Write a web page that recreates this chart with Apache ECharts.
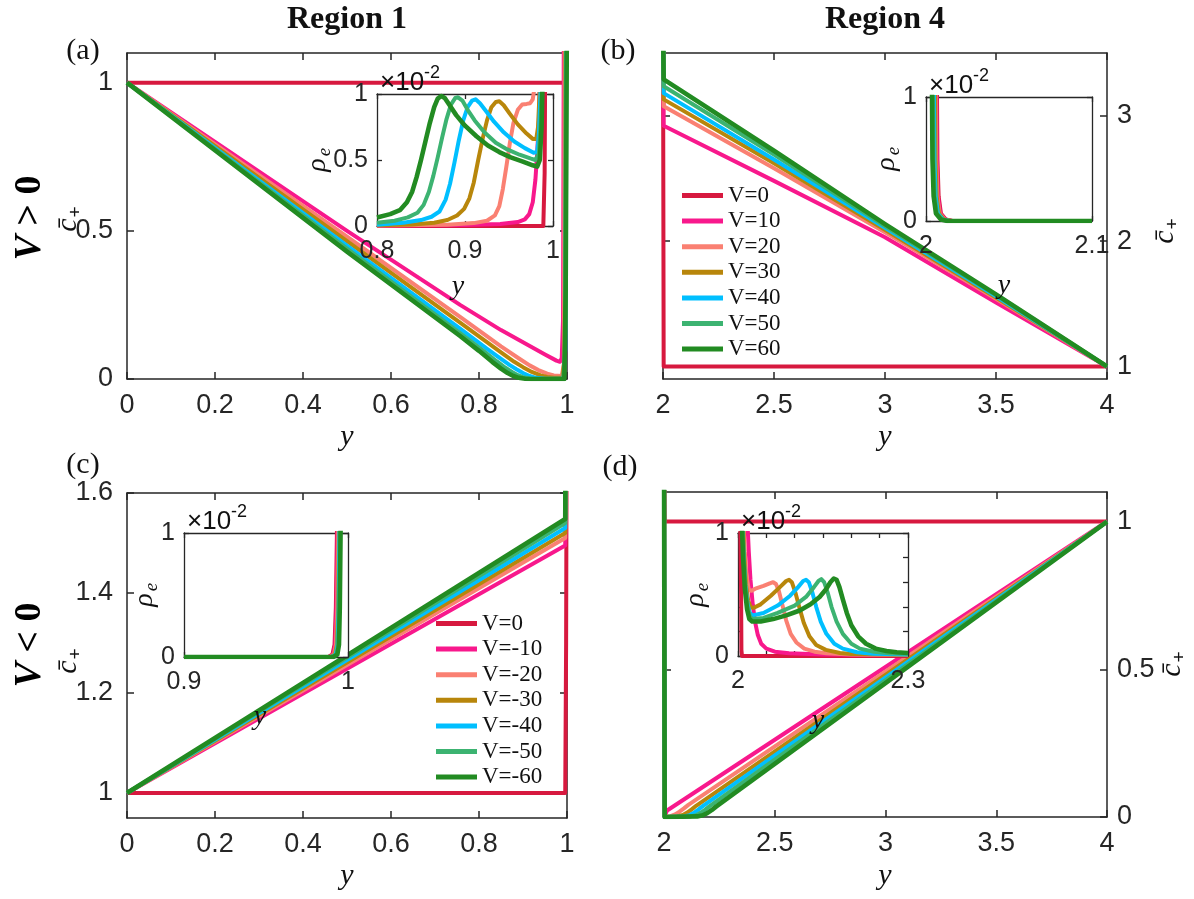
<!DOCTYPE html>
<html>
<head>
<meta charset="utf-8">
<script src="https://cdn.jsdelivr.net/npm/echarts@6/dist/echarts.min.js"></script>
</head>
<body style="margin:0;background:#fff">
<div id="container" style="width:1194px;height:899px"></div>
<script type="text/javascript">
// legend names and colours
var namesPos = ['V=0', 'V=10', 'V=20', 'V=30', 'V=40', 'V=50', 'V=60'];
var namesNeg = ['V=0', 'V=-10', 'V=-20', 'V=-30', 'V=-40', 'V=-50', 'V=-60'];
var lineColors = ['#d7193f', '#f8188c', '#fa8072', '#b8860b', '#00bfff', '#3cb371', '#228b22'];
var lineWidths = [4, 4, 4, 4, 4, 4, 4.6];

// tick values
var ticksX1 = [0, 0.2, 0.4, 0.6, 0.8, 1];
var ticksX4 = [2, 2.5, 3, 3.5, 4];
var ticksYa = [0, 0.5, 1];
var ticksYb = [1, 2, 3];
var ticksYc = [1, 1.2, 1.4, 1.6];
var ticksYd = [0, 0.5, 1];
var ticksInA = [0.8, 0.9, 1];
var ticksInB = [2, 2.1];
var ticksInC = [0.9, 1];
var ticksInD = [2, 2.05, 2.1, 2.15, 2.2, 2.25, 2.3];
var labelsInD = [2, 2.3];
var ticksInYD = [0, 0.2, 0.4, 0.6, 0.8, 1];
var ticksIn01 = [0, 1];

// (a) region 1, V>0 : c+ vs y
var cA = [
    [[0, 1], [0.995, 1], [0.997, 1.3]],
    [[0, 1], [0.2, 0.8], [0.5, 0.5], [0.757, 0.25], [0.85, 0.165], [0.95, 0.083], [0.976, 0.062], [0.984, 0.058], [0.988, 0.07], [0.991, 0.2], [0.993, 1.3]],
    [[0, 1], [0.5, 0.48], [0.757, 0.21], [0.85, 0.11], [0.89, 0.07], [0.915, 0.046], [0.935, 0.03], [0.955, 0.018], [0.97, 0.012], [0.988, 0.01], [0.993, 0.05], [0.995, 1.3]],
    [[0, 1], [0.5, 0.465], [0.757, 0.19], [0.85, 0.09], [0.88, 0.058], [0.9, 0.04], [0.92, 0.024], [0.94, 0.012], [0.955, 0.007], [0.97, 0.004], [0.99, 0.004], [0.995, 0.08], [0.997, 1.3]],
    [[0, 1], [0.5, 0.45], [0.757, 0.17], [0.82, 0.1], [0.85, 0.068], [0.87, 0.047], [0.885, 0.033], [0.9, 0.02], [0.915, 0.01], [0.93, 0.004], [0.95, 0.001], [0.992, 0.001], [0.996, 0.1], [0.998, 1.3]],
    [[0, 1], [0.5, 0.44], [0.757, 0.155], [0.81, 0.095], [0.84, 0.06], [0.86, 0.038], [0.875, 0.024], [0.888, 0.013], [0.9, 0.006], [0.915, 0.002], [0.93, 0], [0.993, 0], [0.997, 0.2], [0.999, 1.3]],
    [[0, 1], [0.5, 0.43], [0.757, 0.145], [0.8, 0.095], [0.83, 0.058], [0.85, 0.035], [0.865, 0.02], [0.878, 0.01], [0.89, 0.004], [0.905, 0.001], [0.92, 0], [0.994, 0], [0.997, 0.3], [1, 1.3]]
];
// (a) inset : rho_e (x1e-2)
var rhoA = [
    [[0.8, 0], [0.989, 0], [0.9905, 0.4], [0.991, 1.05]],
    [[0.8, 0.003], [0.9, 0.008], [0.94, 0.015], [0.96, 0.03], [0.968, 0.05], [0.973, 0.09], [0.977, 0.18], [0.98, 0.35], [0.982, 0.55], [0.984, 0.8], [0.985, 1.05]],
    [[0.8, 0.003], [0.88, 0.01], [0.91, 0.022], [0.925, 0.04], [0.934, 0.08], [0.939, 0.15], [0.943, 0.28], [0.947, 0.45], [0.951, 0.63], [0.955, 0.78], [0.96, 0.88], [0.965, 0.92], [0.97, 0.925], [0.974, 0.93], [0.977, 0.96], [0.979, 1.05]],
    [[0.8, 0.005], [0.84, 0.012], [0.865, 0.025], [0.88, 0.045], [0.891, 0.08], [0.899, 0.13], [0.905, 0.21], [0.91, 0.33], [0.915, 0.5], [0.92, 0.66], [0.925, 0.8], [0.93, 0.9], [0.935, 0.94], [0.939, 0.945], [0.944, 0.915], [0.951, 0.85], [0.96, 0.77], [0.97, 0.7], [0.977, 0.66], [0.981, 0.66], [0.983, 0.75], [0.985, 1.05]],
    [[0.8, 0.01], [0.83, 0.025], [0.85, 0.045], [0.862, 0.07], [0.871, 0.11], [0.878, 0.2], [0.883, 0.32], [0.888, 0.48], [0.893, 0.65], [0.898, 0.8], [0.903, 0.9], [0.908, 0.95], [0.912, 0.96], [0.917, 0.93], [0.924, 0.87], [0.933, 0.79], [0.944, 0.71], [0.956, 0.64], [0.968, 0.59], [0.978, 0.555], [0.982, 0.56], [0.984, 0.7], [0.986, 1.05]],
    [[0.8, 0.025], [0.82, 0.04], [0.835, 0.065], [0.846, 0.1], [0.853, 0.16], [0.859, 0.26], [0.864, 0.38], [0.869, 0.52], [0.874, 0.67], [0.879, 0.81], [0.884, 0.92], [0.889, 0.97], [0.892, 0.975], [0.897, 0.95], [0.903, 0.88], [0.911, 0.8], [0.922, 0.71], [0.935, 0.63], [0.948, 0.58], [0.962, 0.54], [0.975, 0.51], [0.98, 0.5], [0.984, 0.55], [0.986, 0.8], [0.987, 1.05]],
    [[0.8, 0.064], [0.815, 0.09], [0.826, 0.12], [0.834, 0.18], [0.84, 0.26], [0.845, 0.37], [0.85, 0.5], [0.855, 0.64], [0.86, 0.78], [0.865, 0.9], [0.869, 0.965], [0.873, 0.985], [0.877, 0.97], [0.882, 0.92], [0.89, 0.84], [0.9, 0.76], [0.913, 0.68], [0.926, 0.61], [0.939, 0.56], [0.952, 0.52], [0.965, 0.49], [0.977, 0.46], [0.982, 0.45], [0.985, 0.5], [0.987, 0.75], [0.988, 1.05]]
];

// (b) region 4, V>0
var cB = [
    [[2, 3.8], [2.003, 1], [4, 1]],
    [[2, 3.8], [2.003, 2.92], [2.5, 2.48], [3, 2.03], [3.5, 1.51], [4, 1]],
    [[2, 3.8], [2.003, 3.075], [2.5, 2.58], [3, 2.07], [3.5, 1.54], [4, 1]],
    [[2, 3.8], [2.003, 3.13], [2.5, 2.62], [3, 2.09], [3.5, 1.55], [4, 1]],
    [[2, 3.8], [2.003, 3.18], [2.5, 2.65], [3, 2.105], [3.5, 1.56], [4, 1]],
    [[2, 3.8], [2.003, 3.235], [2.5, 2.69], [3, 2.12], [3.5, 1.57], [4, 1]],
    [[2, 3.8], [2.003, 3.29], [2.5, 2.72], [3, 2.135], [3.5, 1.575], [4, 1]]
];
var rhoB = [
    [[2.0066, 1.05], [2.0069, 0.5], [2.0076, 0.2], [2.009, 0.06], [2.012, 0.012], [2.016, 0], [2.1, 0]],
    [[2.0062, 1.05], [2.0065, 0.5], [2.0072, 0.2], [2.0086, 0.06], [2.0116, 0.012], [2.0156, 0], [2.1, 0]],
    [[2.0058, 1.05], [2.0061, 0.5], [2.0068, 0.2], [2.0082, 0.06], [2.0112, 0.012], [2.0152, 0], [2.1, 0]],
    [[2.0054, 1.05], [2.0057, 0.5], [2.0064, 0.2], [2.0078, 0.06], [2.0108, 0.012], [2.0148, 0], [2.1, 0]],
    [[2.0048, 1.05], [2.0051, 0.5], [2.0058, 0.2], [2.0072, 0.06], [2.0102, 0.012], [2.0142, 0], [2.1, 0]],
    [[2.0042, 1.05], [2.0045, 0.5], [2.0052, 0.2], [2.0066, 0.06], [2.0096, 0.012], [2.0136, 0], [2.1, 0]],
    [[2.0036, 1.05], [2.0039, 0.5], [2.0046, 0.2], [2.006, 0.06], [2.009, 0.012], [2.013, 0], [2.1, 0]]
];

// (c) region 1, V<0
var cC = [
    [[0, 1], [0.996, 1], [0.998, 1.3], [1, 2]],
    [[0, 1], [0.996, 1.495], [0.998, 2]],
    [[0, 1], [0.996, 1.51], [0.998, 2]],
    [[0, 1], [0.996, 1.52], [0.998, 2]],
    [[0, 1], [0.996, 1.53], [0.998, 2]],
    [[0, 1], [0.996, 1.54], [0.998, 2]],
    [[0, 1], [0.996, 1.548], [0.998, 2]]
];
var rhoC = [
    [[0.9, 0], [0.988, 0], [0.9905, 0.02], [0.9918, 0.1], [0.9926, 0.4], [0.9933, 1.05]],
    [[0.9, 0], [0.9885, 0], [0.991, 0.02], [0.9922, 0.1], [0.993, 0.4], [0.9937, 1.05]],
    [[0.9, 0], [0.989, 0], [0.9915, 0.02], [0.9927, 0.1], [0.9935, 0.4], [0.9941, 1.05]],
    [[0.9, 0], [0.9895, 0], [0.992, 0.02], [0.9932, 0.1], [0.994, 0.4], [0.9945, 1.05]],
    [[0.9, 0], [0.99, 0], [0.9925, 0.02], [0.9936, 0.1], [0.9943, 0.4], [0.9948, 1.05]],
    [[0.9, 0], [0.9905, 0], [0.993, 0.02], [0.994, 0.1], [0.9947, 0.4], [0.9952, 1.05]],
    [[0.9, 0], [0.991, 0], [0.9935, 0.02], [0.9945, 0.1], [0.995, 0.4], [0.9955, 1.05]]
];

// (d) region 4, V<0
var cD = [
    [[2, 1.3], [2.003, 1], [4, 1]],
    [[2, 1.3], [2.003, 0], [2.008, 0.012], [2.014, 0.022], [4, 1]],
    [[2, 1.3], [2.003, 0], [2.03, 0.003], [2.05, 0.009], [2.07, 0.018], [2.09, 0.029], [2.11, 0.041], [4, 1]],
    [[2, 1.3], [2.003, 0], [2.06, 0.002], [2.085, 0.007], [2.105, 0.015], [2.125, 0.026], [2.145, 0.038], [4, 1]],
    [[2, 1.3], [2.003, 0], [2.09, 0.002], [2.115, 0.006], [2.135, 0.014], [2.155, 0.025], [2.175, 0.037], [4, 1]],
    [[2, 1.3], [2.003, 0], [2.12, 0.002], [2.145, 0.006], [2.165, 0.014], [2.185, 0.024], [2.205, 0.036], [4, 1]],
    [[2, 1.3], [2.003, 0], [2.15, 0.002], [2.175, 0.006], [2.195, 0.013], [2.215, 0.023], [2.235, 0.035], [4, 1]]
];
var rhoD = [
    [[2.004, 1.05], [2.0055, 0.5], [2.006, 0.05], [2.007, 0], [2.3, 0]],
    [[2.017, 1.05], [2.019, 0.85], [2.022, 0.62], [2.026, 0.42], [2.03, 0.28], [2.035, 0.17], [2.041, 0.1], [2.05, 0.06], [2.065, 0.035], [2.09, 0.022], [2.15, 0.013], [2.3, 0.008]],
    [[2.01, 1.05], [2.012, 0.85], [2.015, 0.65], [2.019, 0.54], [2.024, 0.53], [2.032, 0.55], [2.045, 0.57], [2.056, 0.59], [2.062, 0.6], [2.067, 0.585], [2.072, 0.53], [2.078, 0.42], [2.085, 0.29], [2.093, 0.18], [2.103, 0.11], [2.117, 0.06], [2.135, 0.035], [2.156, 0.022], [2.2, 0.012], [2.3, 0.008]],
    [[2.009, 1.05], [2.011, 0.8], [2.014, 0.58], [2.018, 0.45], [2.022, 0.4], [2.027, 0.39], [2.04, 0.42], [2.058, 0.49], [2.074, 0.56], [2.085, 0.61], [2.09, 0.62], [2.095, 0.6], [2.101, 0.52], [2.108, 0.4], [2.116, 0.27], [2.126, 0.16], [2.138, 0.09], [2.155, 0.05], [2.18, 0.025], [2.2, 0.016], [2.3, 0.01]],
    [[2.008, 1.05], [2.01, 0.8], [2.013, 0.57], [2.017, 0.42], [2.021, 0.35], [2.026, 0.33], [2.045, 0.35], [2.07, 0.41], [2.092, 0.49], [2.106, 0.56], [2.115, 0.61], [2.12, 0.62], [2.125, 0.6], [2.131, 0.52], [2.138, 0.4], [2.146, 0.28], [2.156, 0.18], [2.17, 0.1], [2.185, 0.06], [2.21, 0.03], [2.238, 0.018], [2.3, 0.012]],
    [[2.008, 1.05], [2.01, 0.8], [2.013, 0.55], [2.017, 0.4], [2.021, 0.32], [2.026, 0.3], [2.045, 0.31], [2.07, 0.35], [2.1, 0.41], [2.12, 0.48], [2.134, 0.56], [2.142, 0.61], [2.147, 0.625], [2.152, 0.6], [2.158, 0.52], [2.165, 0.4], [2.174, 0.28], [2.185, 0.18], [2.2, 0.1], [2.215, 0.06], [2.24, 0.035], [2.268, 0.022], [2.3, 0.018]],
    [[2.007, 1.05], [2.009, 0.8], [2.012, 0.55], [2.016, 0.38], [2.02, 0.3], [2.025, 0.28], [2.04, 0.28], [2.062, 0.3], [2.085, 0.33], [2.109, 0.37], [2.128, 0.42], [2.144, 0.48], [2.155, 0.54], [2.163, 0.6], [2.169, 0.63], [2.174, 0.62], [2.179, 0.56], [2.185, 0.46], [2.192, 0.35], [2.2, 0.25], [2.212, 0.16], [2.226, 0.1], [2.243, 0.06], [2.262, 0.04], [2.28, 0.03], [2.3, 0.025]]
];

var grids = [], xAxes = [], yAxes = [], series = [];
var axisColor = '#262626';

function addPanel(box, xr, yr, xt, xl, yt, yl, ySide, inset) {
    var gi = grids.length;
    var z = inset ? 6 : 1;
    var ls = { color: axisColor, width: inset ? 1.3 : 1.5 };
    var fs = inset ? 25 : 27;
    grids.push({
        left: box[0], top: box[1], width: box[2], height: box[3],
        show: inset, backgroundColor: '#fff', borderWidth: 0, z: inset ? 5 : 0
    });
    ['bottom', 'top'].forEach(function (pos, k) {
        xAxes.push({
            gridIndex: gi, type: 'value', position: pos, min: xr[0], max: xr[1], z: z,
            axisLine: { show: true, onZero: false, lineStyle: ls },
            axisTick: { show: true, inside: true, length: inset ? 5 : 7, customValues: xt, lineStyle: ls },
            axisLabel: { show: k === 0, customValues: xl, margin: 13, fontSize: fs, fontFamily: 'Liberation Sans', color: axisColor },
            splitLine: { show: false }
        });
    });
    var other = ySide === 'left' ? 'right' : 'left';
    [ySide, other].forEach(function (pos, k) {
        yAxes.push({
            gridIndex: gi, type: 'value', position: pos, min: yr[0], max: yr[1], z: z,
            axisLine: { show: true, onZero: false, lineStyle: ls },
            axisTick: { show: true, inside: true, length: inset ? 5 : 7, customValues: yt, lineStyle: ls },
            axisLabel: { show: k === 0, customValues: yl, margin: inset ? 9 : (ySide === 'left' ? 14 : 10), fontSize: fs, fontFamily: 'Liberation Sans', color: axisColor },
            splitLine: { show: false }
        });
    });
    return { x: xAxes.length - 2, y: yAxes.length - 2 };
}

function addLines(ax, list, names, inset) {
    list.forEach(function (d, i) {
        series.push({
            type: 'line', name: names[i], xAxisIndex: ax.x, yAxisIndex: ax.y, data: d,
            showSymbol: false, symbol: 'none', clip: true, smooth: false,
            z: inset ? 7 : 2,
            lineStyle: { color: lineColors[i], width: lineWidths[i], join: 'round' },
            itemStyle: { color: lineColors[i] },
            emphasis: { disabled: true }
        });
    });
}

var axA = addPanel([127, 53, 440, 326], [0, 1], [0, 1.1], ticksX1, ticksX1, ticksYa, ticksYa, 'left', false);
var axB = addPanel([663, 53, 444, 326], [2, 4], [0.9, 3.5], ticksX4, ticksX4, ticksYb, ticksYb, 'right', false);
var axC = addPanel([127, 493, 440, 325], [0, 1], [0.95, 1.6], ticksX1, ticksX1, ticksYc, ticksYc, 'left', false);
var axD = addPanel([664, 492, 443, 325], [2, 4], [0, 1.1], ticksX4, ticksX4, ticksYd, ticksYd, 'right', false);
var inA = addPanel([377, 94, 176, 132], [0.8, 1], [0, 1], ticksInA, ticksInA, ticksYa, ticksYa, 'left', true);
var inB = addPanel([926, 97, 166, 124], [2, 2.1], [0, 1], ticksInB, ticksInB, ticksIn01, ticksIn01, 'left', true);
var inC = addPanel([184, 533, 164, 124], [0.9, 1], [0, 1], ticksInC, ticksInC, ticksIn01, ticksIn01, 'left', true);
var inD = addPanel([738, 533, 170, 123], [2, 2.3], [0, 1], ticksInD, labelsInD, ticksInYD, ticksIn01, 'left', true);

addLines(axA, cA, namesPos, false);
addLines(axB, cB, namesPos, false);
addLines(axC, cC, namesNeg, false);
addLines(axD, cD, namesNeg, false);
addLines(inA, rhoA, namesPos, true);
addLines(inB, rhoB, namesPos, true);
addLines(inC, rhoC, namesNeg, true);
addLines(inD, rhoD, namesNeg, true);

var serif = '"Liberation Serif", "DejaVu Serif", serif';
var sans = '"Liberation Sans", Arial, sans-serif';

function txt(x, y, text, font, align) {
    return { type: 'text', x: x, y: y, z: 50, style: { text: text, font: font, fill: '#111', align: align || 'center', verticalAlign: 'middle' } };
}
// rotated c-bar-plus label
function cLabel(x, y) {
    return {
        type: 'group', x: x, y: y, rotation: Math.PI / 2, z: 50,
        children: [
            { type: 'text', x: -5, y: 0, style: { text: 'c\u0304', font: 'italic 30px ' + serif, fill: '#111', align: 'center', verticalAlign: 'middle' } },
            { type: 'text', x: 8, y: 8, style: { text: '+', font: '19px ' + sans, fill: '#111', align: 'center', verticalAlign: 'middle' } }
        ]
    };
}
function rhoLabel(x, y) {
    return {
        type: 'group', x: x, y: y, rotation: Math.PI / 2, z: 50,
        children: [
            { type: 'text', x: -5, y: 0, style: { text: '\u03c1', font: 'italic 28px ' + serif, fill: '#111', align: 'center', verticalAlign: 'middle' } },
            { type: 'text', x: 8, y: 7, style: { text: 'e', font: 'italic 19px ' + serif, fill: '#111', align: 'center', verticalAlign: 'middle' } }
        ]
    };
}
function expLabel(left, top) {
    return [
        txt(left + 3, top - 11, '\u00d710', '26px ' + sans, 'left'),
        txt(left + 47, top - 21, '-2', '18px ' + sans, 'left')
    ];
}
function signLabel(x, y, sign) {
    return {
        type: 'text', x: x, y: y, rotation: Math.PI / 2, z: 50,
        style: {
            text: '{i|V}{n| ' + sign + ' 0}', align: 'center', verticalAlign: 'middle',
            rich: {
                i: { fontFamily: serif, fontStyle: 'italic', fontWeight: 'bold', fontSize: 38, fill: '#000' },
                n: { fontFamily: serif, fontWeight: 'bold', fontSize: 38, fill: '#000' }
            }
        }
    };
}

var graphics = [
    txt(347, 20, 'Region 1', 'bold 32px ' + serif),
    txt(885, 20, 'Region 4', 'bold 32px ' + serif),
    txt(83, 51, '(a)', '30px ' + serif),
    txt(618, 51, '(b)', '30px ' + serif),
    txt(83, 465, '(c)', '30px ' + serif),
    txt(620, 467, '(d)', '30px ' + serif),
    txt(347, 437, 'y', 'italic 30px ' + serif),
    txt(885, 437, 'y', 'italic 30px ' + serif),
    txt(347, 876, 'y', 'italic 30px ' + serif),
    txt(885, 876, 'y', 'italic 30px ' + serif),
    txt(458, 287, 'y', 'italic 28px ' + serif),
    txt(1004, 286, 'y', 'italic 28px ' + serif),
    txt(260, 717, 'y', 'italic 28px ' + serif),
    txt(818, 721, 'y', 'italic 28px ' + serif),
    cLabel(68, 220), cLabel(68, 662), cLabel(1165, 232), cLabel(1172, 665),
    rhoLabel(318, 160), rhoLabel(887, 159), rhoLabel(145, 595), rhoLabel(696, 595),
    signLabel(30, 218, '>'), signLabel(30, 645, '<')
].concat(expLabel(377, 94), expLabel(926, 97), expLabel(184, 533), expLabel(738, 533));

var legendBase = {
    orient: 'vertical', itemWidth: 41, itemHeight: 5, itemGap: 2.6, icon: 'rect', padding: 0,
    selectedMode: false,
    textStyle: { fontFamily: serif, fontSize: 23, lineHeight: 23, color: '#111' }
};

var dom = document.getElementById('container');
var myChart = echarts.init(dom, null, { renderer: 'canvas' });
var option = {
    animation: false,
    backgroundColor: '#fff',
    grid: grids,
    xAxis: xAxes,
    yAxis: yAxes,
    legend: [
        Object.assign({}, legendBase, { data: namesPos, left: 682, top: 184 }),
        Object.assign({}, legendBase, { data: namesNeg, left: 436, top: 612 })
    ],
    graphic: graphics,
    series: series
};
myChart.setOption(option);
</script>
</body>
</html>
